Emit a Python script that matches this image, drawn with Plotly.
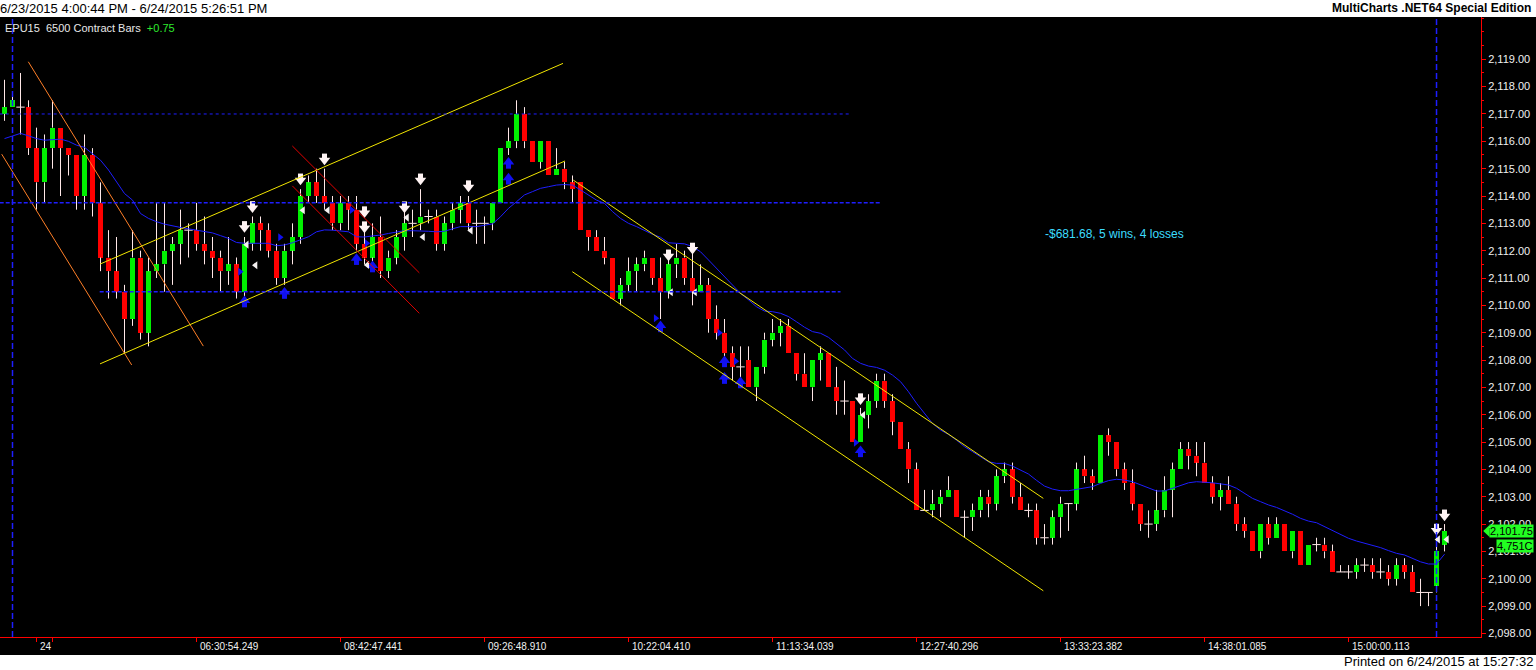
import plotly.graph_objects as go

# === EPU15, 6500 contract bars : OHLC ===
opens = [
    2117.0, 2117.25, 2117.25, 2117.25, 2115.75, 2114.5, 2115.75, 2116.5, 2115.75, 2115.5,
    2114.0, 2115.5, 2113.75, 2111.75, 2111.25, 2110.5, 2109.5, 2111.75, 2109.0, 2111.25,
    2111.5, 2112.0, 2112.25, 2112.75, 2112.75, 2112.25, 2112.0, 2111.75, 2111.25, 2111.5,
    2110.5, 2112.25, 2113.0, 2112.75, 2112.0, 2111.0, 2112.0, 2112.5, 2114.0, 2114.5,
    2114.0, 2113.75, 2113.0, 2113.75, 2113.5, 2112.25, 2111.75, 2112.5, 2111.25, 2111.75,
    2112.5, 2113.0, 2113.0, 2113.25, 2113.25, 2112.25, 2113.0, 2113.5, 2113.75, 2113.0,
    2113.0, 2113.0, 2113.75, 2115.75, 2116.0, 2117.0, 2116.0, 2115.25, 2116.0, 2114.75,
    2115.0, 2114.5, 2114.5, 2112.75, 2112.5, 2112.0, 2111.75, 2110.25, 2110.75, 2111.25,
    2111.5, 2111.75, 2111.0, 2110.5, 2111.5, 2111.75, 2111.0, 2110.5, 2110.75, 2109.5,
    2109.0, 2108.25, 2107.75, 2108.0, 2107.0, 2107.75, 2108.75, 2109.0, 2109.25, 2108.25,
    2107.5, 2107.0, 2108.0, 2108.25, 2107.0, 2106.5, 2106.5, 2105.0, 2106.0, 2106.5,
    2107.25, 2106.5, 2105.75, 2104.75, 2104.0, 2102.5, 2102.5, 2102.75, 2103.0, 2103.25,
    2102.25, 2102.25, 2102.5, 2103.0, 2102.75, 2103.75, 2104.0, 2103.0, 2102.5, 2102.5,
    2101.5, 2101.5, 2102.25, 2102.75, 2102.75, 2104.0, 2103.75, 2103.5, 2105.25, 2105.0,
    2104.0, 2103.5, 2102.75, 2102.0, 2102.0, 2102.5, 2103.25, 2104.0, 2104.75, 2104.5,
    2104.25, 2103.5, 2103.0, 2103.25, 2102.75, 2102.0, 2101.75, 2101.0, 2102.0, 2101.5,
    2102.0, 2101.0, 2101.75, 2100.5, 2101.25, 2101.25, 2101.0, 2100.25, 2100.25, 2100.25,
    2100.5, 2100.5, 2100.25, 2100.25, 2100.0, 2100.5, 2100.25, 2099.5, 2099.5, 2099.75,
    2101.25,
]
highs = [
    2118.25, 2117.75, 2118.5, 2117.5, 2116.5, 2116.25, 2117.5, 2116.5, 2115.75, 2115.5,
    2116.25, 2115.75, 2114.5, 2112.75, 2112.5, 2110.75, 2112.75, 2112.0, 2111.75, 2113.75,
    2113.75, 2112.5, 2113.5, 2113.0, 2113.75, 2113.25, 2112.5, 2112.0, 2112.5, 2111.75,
    2112.5, 2113.25, 2113.25, 2113.0, 2112.25, 2112.25, 2113.0, 2114.25, 2114.75, 2115.0,
    2115.0, 2114.0, 2114.0, 2114.0, 2114.0, 2112.75, 2113.0, 2113.25, 2112.0, 2112.75,
    2113.5, 2113.5, 2114.25, 2113.5, 2113.5, 2113.25, 2113.75, 2114.0, 2114.0, 2113.5,
    2113.25, 2113.75, 2115.75, 2116.5, 2117.5, 2117.25, 2116.0, 2116.0, 2116.0, 2115.75,
    2115.25, 2114.75, 2114.5, 2112.75, 2112.75, 2112.5, 2111.75, 2111.0, 2111.75, 2111.75,
    2112.0, 2111.75, 2111.75, 2111.75, 2112.25, 2112.0, 2112.0, 2111.5, 2111.0, 2110.0,
    2109.5, 2108.5, 2108.5, 2108.5, 2107.75, 2109.0, 2109.5, 2109.5, 2109.5, 2108.25,
    2108.25, 2108.0, 2108.5, 2108.25, 2107.75, 2107.25, 2106.5, 2106.25, 2106.75, 2107.5,
    2107.5, 2106.75, 2105.75, 2105.0, 2104.25, 2103.25, 2103.25, 2103.25, 2103.75, 2103.25,
    2102.5, 2102.75, 2103.25, 2103.25, 2104.0, 2104.25, 2104.25, 2103.5, 2102.75, 2102.75,
    2102.0, 2102.5, 2103.0, 2102.75, 2104.25, 2104.5, 2104.0, 2105.25, 2105.5, 2105.0,
    2104.25, 2104.0, 2102.75, 2102.5, 2103.25, 2103.75, 2104.25, 2105.0, 2105.0, 2105.0,
    2105.0, 2103.75, 2103.5, 2103.75, 2103.0, 2102.25, 2101.75, 2102.0, 2102.25, 2102.25,
    2102.0, 2101.75, 2101.75, 2101.25, 2101.5, 2101.5, 2101.25, 2100.5, 2100.5, 2100.75,
    2100.75, 2100.75, 2100.75, 2100.5, 2100.75, 2100.75, 2100.5, 2100.0, 2099.5, 2101.5,
    2102.0,
]
lows = [
    2116.75, 2117.25, 2116.25, 2115.5, 2113.5, 2113.75, 2115.0, 2114.0, 2114.75, 2113.5,
    2113.5, 2113.25, 2111.25, 2110.25, 2110.25, 2108.25, 2109.25, 2108.75, 2108.5, 2111.0,
    2110.5, 2110.75, 2111.5, 2111.75, 2112.0, 2111.5, 2111.0, 2110.5, 2110.75, 2110.25,
    2110.25, 2112.0, 2112.0, 2111.75, 2110.75, 2110.75, 2111.5, 2112.25, 2113.75, 2113.75,
    2113.5, 2112.75, 2112.75, 2112.75, 2112.0, 2111.5, 2111.5, 2111.0, 2111.0, 2111.5,
    2112.0, 2112.5, 2112.75, 2113.0, 2112.0, 2112.0, 2112.75, 2113.0, 2112.75, 2112.25,
    2112.25, 2112.75, 2113.75, 2115.5, 2115.75, 2115.75, 2115.25, 2115.0, 2114.75, 2114.75,
    2114.25, 2113.75, 2112.75, 2112.0, 2112.0, 2111.5, 2110.25, 2110.0, 2110.5, 2110.5,
    2111.25, 2110.75, 2109.5, 2110.25, 2111.0, 2110.75, 2110.0, 2110.5, 2109.0, 2108.75,
    2108.0, 2107.25, 2107.25, 2107.0, 2106.5, 2107.5, 2108.5, 2108.5, 2108.25, 2107.25,
    2107.0, 2106.5, 2107.25, 2107.0, 2106.0, 2106.0, 2105.0, 2105.0, 2105.5, 2106.25,
    2106.25, 2105.25, 2104.75, 2103.5, 2102.5, 2102.5, 2102.25, 2102.25, 2103.0, 2102.25,
    2101.5, 2101.75, 2102.25, 2102.25, 2102.5, 2103.5, 2102.75, 2102.5, 2102.25, 2101.25,
    2101.25, 2101.25, 2101.5, 2101.75, 2102.5, 2103.5, 2103.25, 2103.5, 2104.5, 2103.75,
    2103.25, 2102.5, 2101.75, 2101.5, 2101.75, 2102.25, 2102.25, 2104.0, 2104.0, 2103.75,
    2103.5, 2102.75, 2102.5, 2102.75, 2101.75, 2101.5, 2101.0, 2100.75, 2101.25, 2101.5,
    2101.0, 2100.75, 2100.5, 2100.5, 2101.0, 2100.75, 2100.25, 2100.25, 2100.0, 2100.0,
    2100.25, 2100.0, 2100.0, 2099.75, 2099.75, 2100.0, 2099.5, 2099.0, 2099.0, 2099.5,
    2101.0,
]
closes = [
    2117.25, 2117.5, 2117.25, 2115.75, 2114.5, 2115.75, 2116.5, 2115.75, 2115.5, 2114.0,
    2115.5, 2113.75, 2111.75, 2111.25, 2110.5, 2109.5, 2111.75, 2109.0, 2111.25, 2111.5,
    2112.0, 2112.25, 2112.75, 2112.75, 2112.25, 2112.0, 2111.75, 2111.25, 2111.5, 2110.5,
    2112.25, 2113.0, 2112.75, 2112.0, 2111.0, 2112.0, 2112.5, 2114.0, 2114.5, 2114.0,
    2113.75, 2113.0, 2113.75, 2113.5, 2112.25, 2111.75, 2112.5, 2111.25, 2111.75, 2112.5,
    2113.0, 2113.0, 2113.25, 2113.25, 2112.25, 2113.0, 2113.5, 2113.75, 2113.0, 2113.0,
    2113.0, 2113.75, 2115.75, 2116.0, 2117.0, 2116.0, 2115.25, 2116.0, 2114.75, 2115.0,
    2114.5, 2114.25, 2112.75, 2112.5, 2112.0, 2111.75, 2110.25, 2110.75, 2111.25, 2111.5,
    2111.75, 2111.0, 2110.5, 2111.5, 2111.75, 2111.0, 2110.5, 2110.75, 2109.5, 2109.0,
    2108.25, 2107.75, 2107.75, 2107.0, 2107.75, 2108.75, 2109.0, 2109.25, 2108.25, 2107.5,
    2107.0, 2108.0, 2108.25, 2107.0, 2106.5, 2106.5, 2105.0, 2106.0, 2106.5, 2107.25,
    2106.5, 2105.75, 2104.75, 2104.0, 2102.5, 2102.5, 2102.75, 2103.0, 2103.25, 2102.25,
    2102.25, 2102.5, 2103.0, 2102.75, 2103.75, 2104.0, 2103.0, 2102.5, 2102.5, 2101.5,
    2101.5, 2102.25, 2102.75, 2102.75, 2104.0, 2103.75, 2103.5, 2105.25, 2105.0, 2104.0,
    2103.5, 2102.75, 2102.0, 2102.0, 2102.5, 2103.25, 2104.0, 2104.75, 2104.5, 2104.25,
    2103.5, 2103.0, 2103.25, 2102.75, 2102.0, 2101.75, 2101.0, 2102.0, 2101.5, 2102.0,
    2101.0, 2101.75, 2100.5, 2101.25, 2101.25, 2101.0, 2100.25, 2100.25, 2100.25, 2100.5,
    2100.5, 2100.25, 2100.25, 2100.0, 2100.5, 2100.25, 2099.5, 2099.5, 2099.5, 2101.0,
    2101.75,
]

# blue moving average, one reading per bar
ma_values = [
    2116.1, 2116.2, 2116.29, 2116.2, 2116.1, 2116.04, 2116.05, 2116.08, 2116.0, 2115.86,
    2115.78, 2115.56, 2115.31, 2114.95, 2114.52, 2114.09, 2113.85, 2113.36, 2113.18, 2113.06,
    2112.97, 2112.9, 2112.85, 2112.8, 2112.75, 2112.7, 2112.65, 2112.55, 2112.45, 2112.3,
    2112.27, 2112.27, 2112.27, 2112.27, 2112.18, 2112.21, 2112.29, 2112.4, 2112.51, 2112.69,
    2112.76, 2112.75, 2112.73, 2112.69, 2112.51, 2112.5, 2112.54, 2112.57, 2112.63, 2112.68,
    2112.73, 2112.73, 2112.73, 2112.71, 2112.69, 2112.71, 2112.8, 2112.88, 2112.88, 2112.88,
    2112.93, 2112.98, 2113.24, 2113.55, 2113.79, 2114.04, 2114.16, 2114.28, 2114.34, 2114.4,
    2114.42, 2114.4, 2114.22, 2114.04, 2113.85, 2113.73, 2113.43, 2113.18, 2113.0, 2112.88,
    2112.73, 2112.6, 2112.49, 2112.29, 2112.27, 2112.25, 2112.15, 2111.96, 2111.66, 2111.35,
    2111.05, 2110.74, 2110.44, 2110.2, 2109.95, 2109.79, 2109.77, 2109.71, 2109.59, 2109.4,
    2109.2, 2109.04, 2108.98, 2108.83, 2108.61, 2108.37, 2108.06, 2107.88, 2107.78, 2107.73,
    2107.63, 2107.45, 2107.21, 2106.84, 2106.42, 2106.05, 2105.68, 2105.44, 2105.28, 2105.07,
    2104.83, 2104.65, 2104.47, 2104.28, 2104.22, 2104.22, 2104.12, 2103.98, 2103.83, 2103.6,
    2103.39, 2103.28, 2103.22, 2103.22, 2103.27, 2103.31, 2103.37, 2103.49, 2103.59, 2103.64,
    2103.61, 2103.55, 2103.43, 2103.31, 2103.21, 2103.21, 2103.31, 2103.43, 2103.51, 2103.55,
    2103.54, 2103.51, 2103.47, 2103.43, 2103.31, 2103.12, 2102.94, 2102.82, 2102.7, 2102.61,
    2102.49, 2102.36, 2102.21, 2102.11, 2102.05, 2101.91, 2101.78, 2101.64, 2101.48, 2101.38,
    2101.3, 2101.2, 2101.14, 2101.03, 2100.93, 2100.87, 2100.75, 2100.62, 2100.54, 2100.54,
    2100.9,
]

# === strategy signals (bar position, price) ===
sell_bars = [30, 31, 37, 40, 45, 45, 50, 52, 58, 83, 86, 107, 179, 180]
sell_prices = [2112.88, 2113.61, 2114.62, 2115.35, 2113.42, 2112.87, 2113.6, 2114.62,
               2114.37, 2111.84, 2112.09, 2106.58, 2101.81, 2102.33]
buy_bars = [30, 35, 44, 46, 63, 63, 82, 90, 90, 92, 107]
buy_prices = [2110.13, 2110.44, 2111.68, 2111.41, 2115.2, 2114.62, 2109.22, 2107.94,
              2107.33, 2107.17, 2104.65]
exit_bars = [30.28, 31.38, 37.31, 40.41, 45.35, 50.31, 52.31, 58.29, 83.31, 86.31,
             107.35, 179.2, 180.3]
exit_prices = [2112.22, 2111.47, 2113.48, 2113.48, 2111.48, 2113.21, 2112.5, 2112.74,
               2110.48, 2110.48, 2105.99, 2101.44, 2101.44]
entry_bars = [29.44, 34.44, 43.4, 45.28, 81.4, 89.35, 91.4, 106.4]
entry_prices = [2111.23, 2112.49, 2113.49, 2112.27, 2109.53, 2109.0, 2107.96, 2104.98]

# === drawn lines ===
trend_start_bar = [2.975, -0.35, 11.94, 11.94, 35.98, 35.98, 71.1, 70.98]
trend_start_price = [2118.91, 2115.53, 2111.51, 2107.86, 2115.83, 2114.37, 2114.58, 2111.23]
trend_end_bar = [24.85, 15.9, 69.81, 70.06, 51.85, 51.85, 129.85, 129.85]
trend_end_price = [2108.51, 2107.82, 2118.85, 2115.28, 2111.19, 2109.71, 2102.94, 2099.56]
trend_colors = ["#FF7F27", "#FF7F27", "#F2E600", "#F2E600", "#E00000", "#E00000",
                "#F2E600", "#F2E600"]

level_prices = [2117.0, 2113.75, 2110.5]
level_start = [-0.6, -0.6, 11.9]
level_end = [105.9, 109.4, 104.5]
level_dash = ["3px,3px", "4px,2px", "4px,2px"]
level_width = [1, 1.5, 1.5]
session_bars = [1, 179]

# === time axis ===
tick_marks = [4, 6, 24, 42, 60, 78, 96, 114, 132, 150, 168]
label_bars = [4, 24, 42, 60, 78, 96, 114, 132, 150, 168]
label_text = ["24", "06:30:54.249", "08:42:47.441", "09:26:48.910", "10:22:04.410",
              "11:13:34.039", "12:27:40.296", "13:33:23.382", "14:38:01.085", "15:00:00.113"]
price_ticks = list(range(2098, 2120))

Y_MIN, Y_MAX = 2097.87, 2120.547
X_MIN, X_MAX = -0.5625, 184.56
PLOT_H = 620
px = (Y_MAX - Y_MIN) / PLOT_H   # price per screen pixel

FONT = "Liberation Sans, Arial, sans-serif"
GREEN, RED, WICK, BLUE = "#00F000", "#FF0000", "#FFE8E8", "#1E1EFF"

bars = list(range(len(opens)))

# === candle bodies (bars) ===
body_base = [min(o, c) for o, c in zip(opens, closes)]
body_len = [abs(c - o) for o, c in zip(opens, closes)]
body_col = [GREEN if c > o else RED for o, c in zip(opens, closes)]

# wick pieces outside the body
wx, wy = [], []
for i, o, h, l, c in zip(bars, opens, highs, lows, closes):
    top, bot = max(o, c), min(o, c)
    if h > top:
        wx += [i, i, None]
        wy += [top, h, None]
    if l < bot:
        wx += [i, i, None]
        wy += [l, bot, None]

doji_x = [i for i, o, c in zip(bars, opens, closes) if o == c]
doji_y = [o for o, c in zip(opens, closes) if o == c]

fig = go.Figure()

fig.add_trace(go.Bar(x=bars, base=body_base, y=body_len, width=0.625,
                     marker=dict(color=body_col, line=dict(width=0)),
                     hoverinfo="skip", showlegend=False))
fig.add_trace(go.Scatter(x=wx, y=wy, mode="lines", line=dict(color=WICK, width=1),
                         hoverinfo="skip", showlegend=False))
fig.add_trace(go.Scatter(x=doji_x, y=doji_y, mode="markers",
                         marker=dict(symbol="line-ew", size=6, line=dict(color=WICK, width=1)),
                         hoverinfo="skip", showlegend=False))
fig.add_trace(go.Scatter(x=bars, y=ma_values, mode="lines", line=dict(color=BLUE, width=1),
                         hoverinfo="skip", showlegend=False))

# === signal arrows (head + stem) ===
fig.add_trace(go.Scatter(x=sell_bars, y=[p + 3 * px for p in sell_prices], mode="markers",
                         marker=dict(symbol="square", size=5, color="#FFF4F4",
                                     line=dict(width=0)),
                         hoverinfo="skip", showlegend=False))
fig.add_trace(go.Scatter(x=sell_bars, y=[p - 1.25 * px for p in sell_prices], mode="markers",
                         marker=dict(symbol="triangle-down", size=10, color="#FFF4F4",
                                     line=dict(width=0)),
                         hoverinfo="skip", showlegend=False))
fig.add_trace(go.Scatter(x=buy_bars, y=[p - 3 * px for p in buy_prices], mode="markers",
                         marker=dict(symbol="square", size=5, color="#1010F0",
                                     line=dict(width=0)),
                         hoverinfo="skip", showlegend=False))
fig.add_trace(go.Scatter(x=buy_bars, y=[p + 1.25 * px for p in buy_prices], mode="markers",
                         marker=dict(symbol="triangle-up", size=10, color="#1010F0",
                                     line=dict(width=0)),
                         hoverinfo="skip", showlegend=False))
fig.add_trace(go.Scatter(x=exit_bars, y=exit_prices, mode="markers",
                         marker=dict(symbol="triangle-left", size=7, color="#F4F0F0",
                                     line=dict(width=0)),
                         hoverinfo="skip", showlegend=False))
fig.add_trace(go.Scatter(x=entry_bars, y=entry_prices, mode="markers",
                         marker=dict(symbol="triangle-right", size=7, color="#1010F0",
                                     line=dict(width=0)),
                         hoverinfo="skip", showlegend=False))

shapes = []
for x0, y0, x1, y1, col in zip(trend_start_bar, trend_start_price, trend_end_bar,
                               trend_end_price, trend_colors):
    shapes.append(dict(type="line", xref="x", yref="y", x0=x0, y0=y0, x1=x1, y1=y1,
                       line=dict(color=col, width=1), layer="above"))
for p, a, b, d, w in zip(level_prices, level_start, level_end, level_dash, level_width):
    shapes.append(dict(type="line", xref="x", yref="y", x0=a, x1=b, y0=p, y1=p,
                       line=dict(color=BLUE, width=w, dash=d), layer="above"))
for b in session_bars:
    shapes.append(dict(type="line", xref="x", yref="paper", x0=b, x1=b, y0=0, y1=1,
                       line=dict(color=BLUE, width=1.5, dash="6px,3px"), layer="above"))

# white header / footer strips
shapes.append(dict(type="rect", xref="paper", yref="paper", x0=-0.01, x1=1.05,
                   y0=1.0, y1=1.05, fillcolor="white", line=dict(width=0), layer="below"))
shapes.append(dict(type="rect", xref="paper", yref="paper", x0=-0.01, x1=1.05,
                   y0=-0.029, y1=-0.07, fillcolor="white", line=dict(width=0), layer="below"))
# pointer of the last-price box
shapes.append(dict(type="path", xref="paper", yref="y",
                   path="M 1.0015 2101.75 L 1.0058 2101.97 L 1.0058 2101.53 Z",
                   fillcolor="#22FF22", line=dict(width=0), layer="above"))

annotations = [
    dict(text="6/23/2015 4:00:44 PM - 6/24/2015 5:26:51 PM", xref="paper", yref="paper",
         x=0, y=1.0145, xanchor="left", yanchor="middle", showarrow=False, xshift=-2,
         font=dict(family=FONT, size=13, color="black")),
    dict(text="<b>MultiCharts .NET64 Special Edition</b>", xref="paper", yref="paper",
         x=1.0351, y=1.0145, xanchor="right", yanchor="middle", showarrow=False,
         font=dict(family=FONT, size=12, color="black")),
    dict(text="EPU15&nbsp;&nbsp;6500 Contract Bars&nbsp;&nbsp;<span style='color:#2EE82E'>+0.75</span>",
         xref="paper", yref="paper", x=0.002, y=0.982, xanchor="left", yanchor="middle",
         showarrow=False, font=dict(family=FONT, size=11, color="#E8E8E8")),
    dict(text="-$681.68, 5 wins, 4 losses", xref="x", yref="y", x=129.8, y=2112.61,
         xanchor="left", yanchor="middle", showarrow=False,
         font=dict(family=FONT, size=12, color="#3CDCFF")),
    dict(text="Printed on 6/24/2015 at 15:27:32", xref="paper", yref="paper",
         x=1.0365, y=-0.0403, xanchor="right", yanchor="middle", showarrow=False,
         font=dict(family=FONT, size=13, color="black")),
    dict(text="2,101.75", xref="paper", yref="y", x=1.0361, y=2101.75, xanchor="right",
         yanchor="middle", showarrow=False, bgcolor="#22FF22", borderpad=0,
         font=dict(family=FONT, size=11, color="black")),
    dict(text="4,751C", xref="paper", yref="paper", x=1.0361, y=0.1468, xanchor="right",
         yanchor="middle", showarrow=False, bgcolor="#22FF22", borderpad=0,
         font=dict(family=FONT, size=11, color="black")),
]
for b, t in zip(label_bars, label_text):
    annotations.append(dict(text=t, xref="x", yref="paper", x=b + 0.2, y=-0.0161,
                            xanchor="left", yanchor="middle", showarrow=False,
                            font=dict(family=FONT, size=10, color="#F0F0F0")))

fig.update_layout(
    width=1536, height=670,
    margin=dict(l=0, r=55, t=17, b=33),
    paper_bgcolor="black", plot_bgcolor="black",
    showlegend=False, bargap=0,
    shapes=shapes, annotations=annotations,
    xaxis=dict(range=[X_MIN, X_MAX], showgrid=False, zeroline=False,
               showline=True, linecolor="#FF0000", linewidth=1,
               tickmode="array", tickvals=tick_marks, showticklabels=False,
               ticks="outside", ticklen=4, tickcolor="#FF0000"),
    yaxis=dict(range=[Y_MIN, Y_MAX], side="right", showgrid=False, zeroline=False,
               showline=True, linecolor="#FF0000", linewidth=1,
               tickmode="array", tickvals=price_ticks,
               ticktext=[f"{v:,.2f}" for v in price_ticks],
               ticks="outside", ticklen=4, tickcolor="#FF0000",
               tickfont=dict(family=FONT, size=11, color="#F0F0F0"),
               minor=dict(dtick=0.5, ticks="outside", ticklen=2, tickcolor="#FF0000")),
)

# page body has a default 8px margin; drop it so the chart sits at the window corner
fig.write_html("out.html", config={"displayModeBar": False},
               post_script="document.body.style.margin='0';")
